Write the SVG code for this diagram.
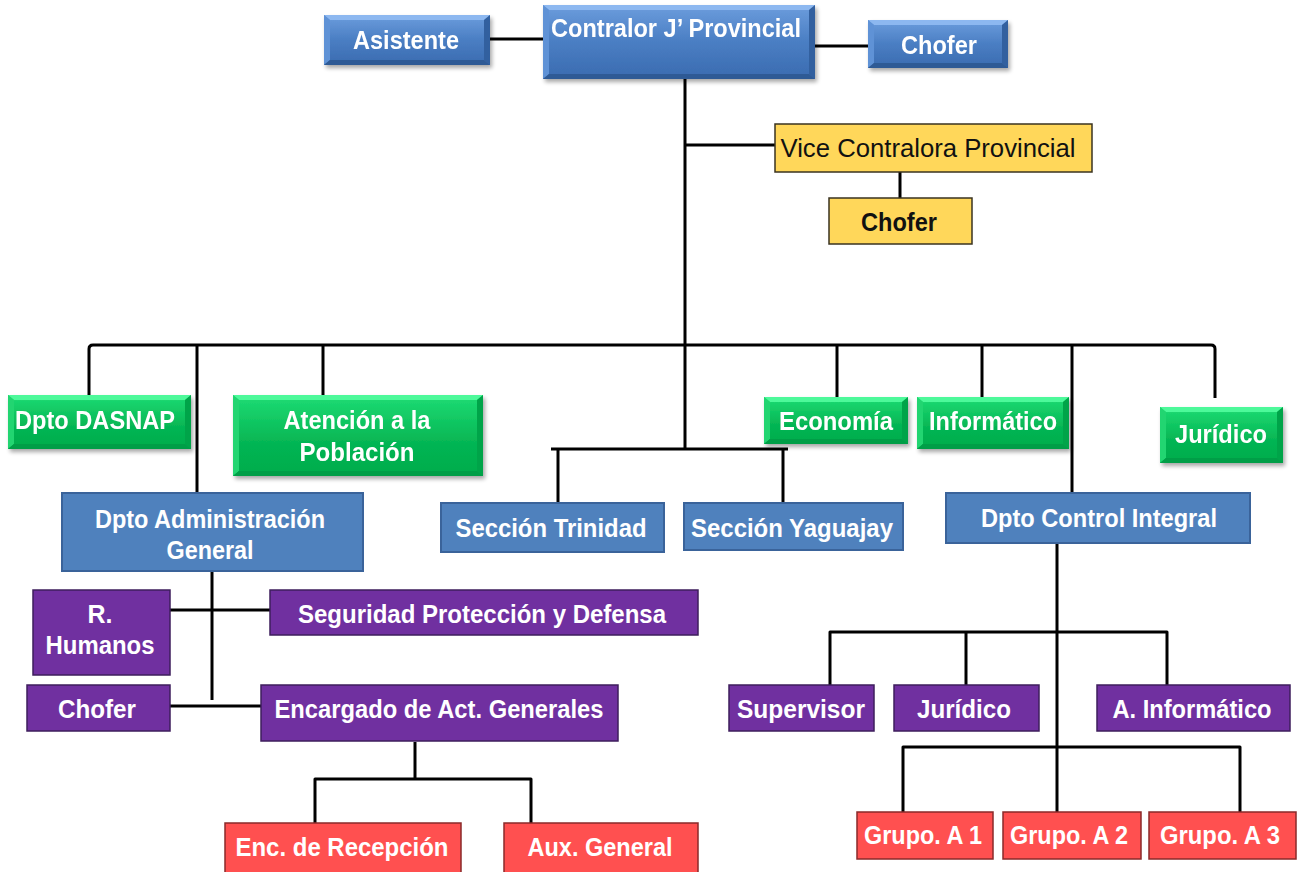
<svg xmlns="http://www.w3.org/2000/svg" width="1303" height="872" viewBox="0 0 1303 872">
<defs>
<linearGradient id="gBlue" x1="0" y1="0" x2="0" y2="1">
<stop offset="0" stop-color="#6C9DDD"/><stop offset="0.5" stop-color="#4A7EC3"/><stop offset="1" stop-color="#3A6BB0"/>
</linearGradient>
<linearGradient id="gGreen" x1="0" y1="0" x2="0" y2="1">
<stop offset="0" stop-color="#1EDC74"/><stop offset="0.6" stop-color="#05B553"/><stop offset="1" stop-color="#00AC4C"/>
</linearGradient>
<filter id="sh" x="-10%" y="-10%" width="125%" height="135%">
<feGaussianBlur in="SourceAlpha" stdDeviation="2"/>
<feOffset dx="2" dy="3"/>
<feComponentTransfer><feFuncA type="linear" slope="0.35"/></feComponentTransfer>
<feMerge><feMergeNode/><feMergeNode in="SourceGraphic"/></feMerge>
</filter>
</defs>
<style>
.bt{fill:url(#gBlue)}
.bbT{fill:#8DB8F0}.bbL{fill:#5F92D6}.bbR{fill:#33619F}.bbB{fill:#2F5A95}
.bl{fill:#4F81BD;stroke:#3A639A;stroke-width:2}
.gr{fill:url(#gGreen)}
.bvT{fill:#4DF99A}.bvL{fill:#22D571}.bvR{fill:#01A449}.bvB{fill:#009E46}
.pu{fill:#7030A0;stroke:#3E1E5C;stroke-width:1.5}
.rd{fill:#FF5050;stroke:#8A2A2A;stroke-width:1.5}
.ye{fill:#FFD75A;stroke:#3A3320;stroke-width:1.5}
.t{font-family:"Liberation Sans",Arial,sans-serif;font-weight:bold;font-size:25px;fill:#FFFFFF;text-anchor:middle}
.tk{font-family:"Liberation Sans",Arial,sans-serif;font-size:25px;fill:#111111;text-anchor:middle}
.ln{fill:none;stroke:#000;stroke-width:3;stroke-linejoin:round}
</style>
<g id="connectors" class="ln">
<path d="M685,79 V449"/>
<path d="M685,145 H775"/>
<path d="M490,39 H543"/>
<path d="M815,46 H868"/>
<path d="M900,172 V198"/>
<path d="M89,395 V349 Q89,345 93,345 H1211 Q1215,345 1215,349 V398"/>
<path d="M197,345 V493"/>
<path d="M323,345 V395"/>
<path d="M837,345 V397"/>
<path d="M982,345 V397"/>
<path d="M1072,345 V493"/>
<path d="M551,449 H788"/>
<path d="M558,449 V503"/>
<path d="M783,449 V503"/>
<path d="M212,571 V700"/>
<path d="M170,610 H270"/>
<path d="M170,706 H262"/>
<path d="M415,742 V779"/>
<path d="M315,823 V779 H531 V823"/>
<path d="M1057,543 V812"/>
<path d="M830,685 V632 H1167 V685"/>
<path d="M966,632 V685"/>
<path d="M903,812 V747 H1240 V812"/>
</g>
<g id="asistente" filter="url(#sh)">
<rect class="bt" x="324" y="15" width="166" height="50"/>
<polygon class="bbT" points="324,15 490,15 484,20 330,20"/>
<polygon class="bbL" points="324,15 330,20 330,60 324,65"/>
<polygon class="bbR" points="490,15 490,65 484,60 484,20"/>
<polygon class="bbB" points="324,65 330,60 484,60 490,65"/>
<text class="t" x="406" y="49" textLength="106" lengthAdjust="spacingAndGlyphs">Asistente</text>
</g>
<g id="contralor" filter="url(#sh)">
<rect class="bt" x="543" y="5" width="272" height="74"/>
<polygon class="bbT" points="543,5 815,5 809,10 549,10"/>
<polygon class="bbL" points="543,5 549,10 549,74 543,79"/>
<polygon class="bbR" points="815,5 815,79 809,74 809,10"/>
<polygon class="bbB" points="543,79 549,74 809,74 815,79"/>
<text class="t" x="676" y="37" textLength="250" lengthAdjust="spacingAndGlyphs">Contralor J’ Provincial</text>
</g>
<g id="chofer-top" filter="url(#sh)">
<rect class="bt" x="868" y="20" width="140" height="48"/>
<polygon class="bbT" points="868,20 1008,20 1002,25 874,25"/>
<polygon class="bbL" points="868,20 874,25 874,63 868,68"/>
<polygon class="bbR" points="1008,20 1008,68 1002,63 1002,25"/>
<polygon class="bbB" points="868,68 874,63 1002,63 1008,68"/>
<text class="t" x="939" y="54" textLength="76" lengthAdjust="spacingAndGlyphs">Chofer</text>
</g>
<g id="vice">
<rect class="ye" x="775" y="124" width="317" height="48"/>
<text class="tk" x="928" y="157" textLength="295" lengthAdjust="spacingAndGlyphs">Vice Contralora Provincial</text>
</g>
<g id="chofer-vice">
<rect class="ye" x="829" y="198" width="143" height="46"/>
<text class="tk" x="899" y="231" font-weight="bold" textLength="76" lengthAdjust="spacingAndGlyphs">Chofer</text>
</g>
<g id="dasnap" filter="url(#sh)">
<rect class="gr" x="8" y="395" width="183" height="54"/>
<polygon class="bvT" points="8,395 191,395 185,400 14,400"/>
<polygon class="bvL" points="8,395 14,400 14,444 8,449"/>
<polygon class="bvR" points="191,395 191,449 185,444 185,400"/>
<polygon class="bvB" points="8,449 14,444 185,444 191,449"/>
<text class="t" x="95" y="429" textLength="160" lengthAdjust="spacingAndGlyphs">Dpto DASNAP</text>
</g>
<g id="atencion" filter="url(#sh)">
<rect class="gr" x="233" y="395" width="250" height="81"/>
<polygon class="bvT" points="233,395 483,395 477,400 239,400"/>
<polygon class="bvL" points="233,395 239,400 239,471 233,476"/>
<polygon class="bvR" points="483,395 483,476 477,471 477,400"/>
<polygon class="bvB" points="233,476 239,471 477,471 483,476"/>
<text class="t" x="357" y="429" textLength="147" lengthAdjust="spacingAndGlyphs">Atención a la</text>
<text class="t" x="357" y="461" textLength="115" lengthAdjust="spacingAndGlyphs">Población</text>
</g>
<g id="economia" filter="url(#sh)">
<rect class="gr" x="764" y="397" width="144" height="47"/>
<polygon class="bvT" points="764,397 908,397 902,402 770,402"/>
<polygon class="bvL" points="764,397 770,402 770,439 764,444"/>
<polygon class="bvR" points="908,397 908,444 902,439 902,402"/>
<polygon class="bvB" points="764,444 770,439 902,439 908,444"/>
<text class="t" x="836" y="430" textLength="114" lengthAdjust="spacingAndGlyphs">Economía</text>
</g>
<g id="informatico" filter="url(#sh)">
<rect class="gr" x="917" y="397" width="152" height="52"/>
<polygon class="bvT" points="917,397 1069,397 1063,402 923,402"/>
<polygon class="bvL" points="917,397 923,402 923,444 917,449"/>
<polygon class="bvR" points="1069,397 1069,449 1063,444 1063,402"/>
<polygon class="bvB" points="917,449 923,444 1063,444 1069,449"/>
<text class="t" x="993" y="430" textLength="128" lengthAdjust="spacingAndGlyphs">Informático</text>
</g>
<g id="juridico-top" filter="url(#sh)">
<rect class="gr" x="1160" y="407" width="123" height="56"/>
<polygon class="bvT" points="1160,407 1283,407 1277,412 1166,412"/>
<polygon class="bvL" points="1160,407 1166,412 1166,458 1160,463"/>
<polygon class="bvR" points="1283,407 1283,463 1277,458 1277,412"/>
<polygon class="bvB" points="1160,463 1166,458 1277,458 1283,463"/>
<text class="t" x="1221" y="443" textLength="92" lengthAdjust="spacingAndGlyphs">Jurídico</text>
</g>
<g id="admin">
<rect class="bl" x="62" y="493" width="301" height="78"/>
<text class="t" x="210" y="528" textLength="230" lengthAdjust="spacingAndGlyphs">Dpto Administración</text>
<text class="t" x="210" y="559" textLength="87" lengthAdjust="spacingAndGlyphs">General</text>
</g>
<g id="trinidad">
<rect class="bl" x="441" y="503" width="223" height="49"/>
<text class="t" x="551" y="537" textLength="191" lengthAdjust="spacingAndGlyphs">Sección Trinidad</text>
</g>
<g id="yaguajay">
<rect class="bl" x="684" y="503" width="219" height="47"/>
<text class="t" x="792" y="537" textLength="202" lengthAdjust="spacingAndGlyphs">Sección Yaguajay</text>
</g>
<g id="control">
<rect class="bl" x="946" y="493" width="304" height="50"/>
<text class="t" x="1099" y="527" textLength="236" lengthAdjust="spacingAndGlyphs">Dpto Control Integral</text>
</g>
<g id="rhumanos">
<rect class="pu" x="33" y="590" width="137" height="85"/>
<text class="t" x="100" y="623" textLength="25" lengthAdjust="spacingAndGlyphs">R.</text>
<text class="t" x="100" y="654" textLength="109" lengthAdjust="spacingAndGlyphs">Humanos</text>
</g>
<g id="seguridad">
<rect class="pu" x="270" y="590" width="428" height="45"/>
<text class="t" x="482" y="623" textLength="368" lengthAdjust="spacingAndGlyphs">Seguridad Protección y Defensa</text>
</g>
<g id="chofer-admin">
<rect class="pu" x="27" y="685" width="143" height="46"/>
<text class="t" x="97" y="718" textLength="78" lengthAdjust="spacingAndGlyphs">Chofer</text>
</g>
<g id="encargado">
<rect class="pu" x="261" y="685" width="357" height="56"/>
<text class="t" x="439" y="718" textLength="329" lengthAdjust="spacingAndGlyphs">Encargado de Act. Generales</text>
</g>
<g id="recepcion">
<rect class="rd" x="225" y="823" width="236" height="60"/>
<text class="t" x="342" y="856" textLength="213" lengthAdjust="spacingAndGlyphs">Enc. de Recepción</text>
</g>
<g id="auxgeneral">
<rect class="rd" x="504" y="823" width="194" height="60"/>
<text class="t" x="600" y="856" textLength="145" lengthAdjust="spacingAndGlyphs">Aux. General</text>
</g>
<g id="supervisor">
<rect class="pu" x="729" y="685" width="145" height="46"/>
<text class="t" x="801" y="718" textLength="128" lengthAdjust="spacingAndGlyphs">Supervisor</text>
</g>
<g id="juridico-ci">
<rect class="pu" x="894" y="685" width="145" height="46"/>
<text class="t" x="964" y="718" textLength="94" lengthAdjust="spacingAndGlyphs">Jurídico</text>
</g>
<g id="ainformatico">
<rect class="pu" x="1097" y="685" width="193" height="46"/>
<text class="t" x="1192" y="718" textLength="159" lengthAdjust="spacingAndGlyphs">A. Informático</text>
</g>
<g id="grupo1">
<rect class="rd" x="857" y="812" width="136" height="47"/>
<text class="t" x="923" y="844" textLength="118" lengthAdjust="spacingAndGlyphs">Grupo. A 1</text>
</g>
<g id="grupo2">
<rect class="rd" x="1003" y="812" width="138" height="47"/>
<text class="t" x="1069" y="844" textLength="118" lengthAdjust="spacingAndGlyphs">Grupo. A 2</text>
</g>
<g id="grupo3">
<rect class="rd" x="1149" y="812" width="147" height="47"/>
<text class="t" x="1220" y="844" textLength="120" lengthAdjust="spacingAndGlyphs">Grupo. A 3</text>
</g>
</svg>
